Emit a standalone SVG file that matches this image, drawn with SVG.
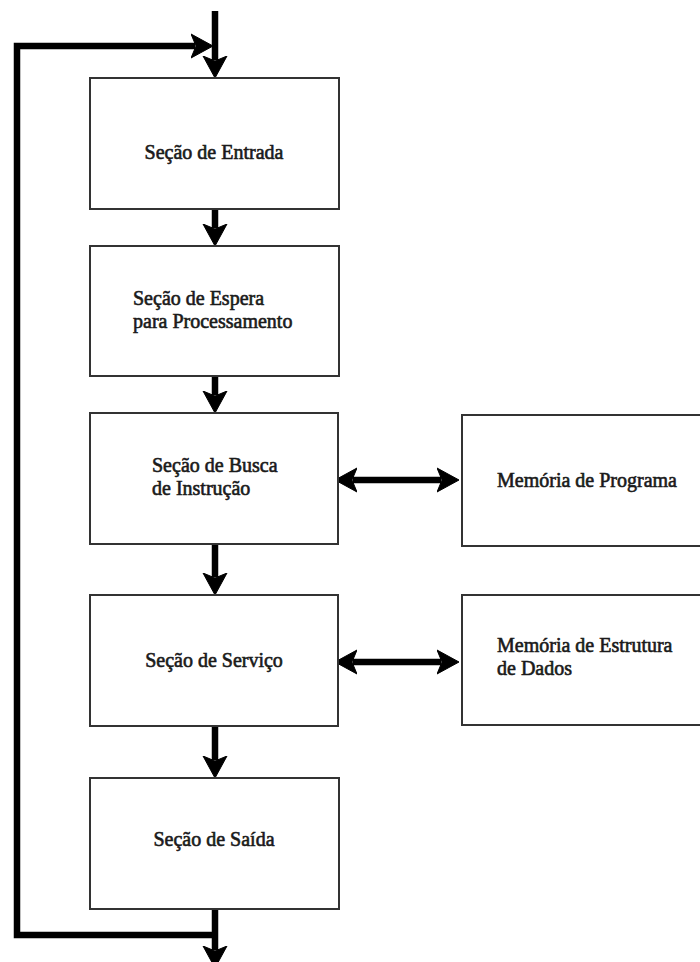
<svg xmlns="http://www.w3.org/2000/svg" width="700" height="962" viewBox="0 0 700 962">
  <style>
    .box { fill: #ffffff; stroke: #333333; stroke-width: 2; }
    .lbl { font-family: "Liberation Serif", "Times New Roman", serif; font-size: 20px; fill: #1a1a1a; stroke: #1a1a1a; stroke-width: 0.6; }
    .mid { text-anchor: middle; }
    .wire { fill: none; stroke: #000000; stroke-width: 6.5; stroke-linejoin: miter; }
  </style>
  <defs>
    <marker id="head" viewBox="0 -13 23 26" refX="4" refY="0" markerWidth="23" markerHeight="26" markerUnits="userSpaceOnUse" orient="auto-start-reverse">
      <path d="M0,-12 L22,0 L0,12 L5,0 Z" fill="#000000" stroke="#000000" stroke-width="1" stroke-linejoin="round"/>
    </marker>
  </defs>
  <rect width="700" height="962" fill="#ffffff"/>

  <!-- connectors -->
  <g id="connectors">
    <path class="wire" d="M215,11 V60" marker-end="url(#head)"/>
    <path class="wire" d="M215,935 H17 V46 H195" marker-end="url(#head)"/>
    <path class="wire" d="M215,209 V228" marker-end="url(#head)"/>
    <path class="wire" d="M215,376 V395" marker-end="url(#head)"/>
    <path class="wire" d="M215,544 V577" marker-end="url(#head)"/>
    <path class="wire" d="M215,726 V760" marker-end="url(#head)"/>
    <path class="wire" d="M215,909 V950" marker-end="url(#head)"/>
    <path class="wire" d="M353,480 H441" marker-start="url(#head)" marker-end="url(#head)"/>
    <path class="wire" d="M353,662 H441" marker-start="url(#head)" marker-end="url(#head)"/>
  </g>

  <!-- stage boxes -->
  <g id="entrada">
    <rect class="box" x="90" y="78" width="249" height="131"/>
    <text class="lbl mid" x="214" y="159">Seção de Entrada</text>
  </g>
  <g id="espera">
    <rect class="box" x="90" y="246" width="249" height="130"/>
    <text class="lbl" x="133" y="305">Seção de Espera</text>
    <text class="lbl" x="133" y="328">para Processamento</text>
  </g>
  <g id="busca">
    <rect class="box" x="90" y="413" width="248" height="131"/>
    <text class="lbl" x="152" y="472">Seção de Busca</text>
    <text class="lbl" x="152" y="495">de Instrução</text>
  </g>
  <g id="servico">
    <rect class="box" x="90" y="595" width="248" height="131"/>
    <text class="lbl mid" x="214" y="667">Seção de Serviço</text>
  </g>
  <g id="saida">
    <rect class="box" x="90" y="778" width="249" height="131"/>
    <text class="lbl mid" x="214" y="846">Seção de Saída</text>
  </g>

  <!-- memory boxes -->
  <g id="mem-programa">
    <rect class="box" x="462" y="415" width="245" height="131"/>
    <text class="lbl" x="497" y="487">Memória de Programa</text>
  </g>
  <g id="mem-dados">
    <rect class="box" x="462" y="595" width="245" height="130"/>
    <text class="lbl" x="497" y="652">Memória de Estrutura</text>
    <text class="lbl" x="497" y="675">de Dados</text>
  </g>
</svg>
